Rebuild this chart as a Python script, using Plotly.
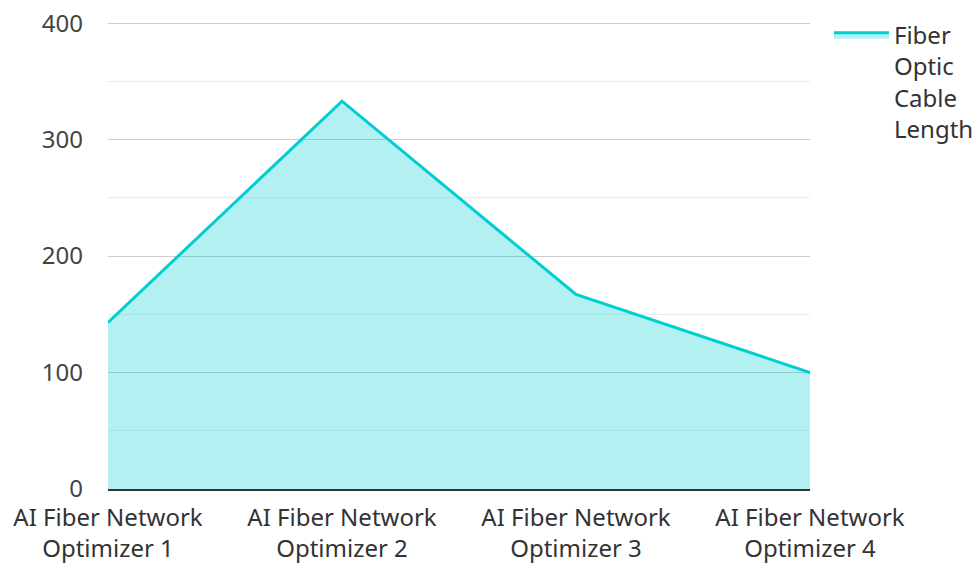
import plotly.graph_objects as go

categories = ["AI Fiber Network<br>Optimizer 1", "AI Fiber Network<br>Optimizer 2",
              "AI Fiber Network<br>Optimizer 3", "AI Fiber Network<br>Optimizer 4"]
values = [143, 333, 167, 100]
series_name = "Fiber<br>Optic<br>Cable<br>Length"
y_ticks = [0, 100, 200, 300, 400]

fig = go.Figure()
fig.add_trace(go.Scatter(
    x=categories, y=values, name=series_name,
    mode="lines", fill="tozeroy",
    line=dict(color="#00CED1", width=3),
    fillcolor="rgba(0,206,209,0.3)",
))

font = "Noto Sans"
fig.update_layout(
    width=978, height=563,
    margin=dict(l=108, r=168, t=22, b=74, autoexpand=False),
    paper_bgcolor="white", plot_bgcolor="white",
    font=dict(family=font, size=24, color="#444"),
    showlegend=True,
    legend=dict(x=1.027, y=1.02, xanchor="left", yanchor="top",
                valign="top", itemwidth=55,
                font=dict(size=24, color="#333"), bgcolor="rgba(0,0,0,0)"),
    xaxis=dict(type="category", range=[0, 3], showgrid=False, automargin=False,
               showline=True, linecolor="#333", linewidth=2,
               ticks="", ticklabelstandoff=6, tickfont=dict(color="#333"),
               ticklabeloverflow="allow"),
    yaxis=dict(range=[0, 401], tickvals=y_ticks, showgrid=True, automargin=False,
               gridcolor="#cccccc", gridwidth=1, zeroline=False,
               ticklabelstandoff=24, ticklabeloverflow="allow",
               minor=dict(dtick=50, showgrid=True, gridcolor="#ebebeb", gridwidth=1)),
)
fig.write_html("out.html", config={"displayModeBar": False},
               post_script="document.body.style.margin='0';document.body.style.overflow='hidden';")
